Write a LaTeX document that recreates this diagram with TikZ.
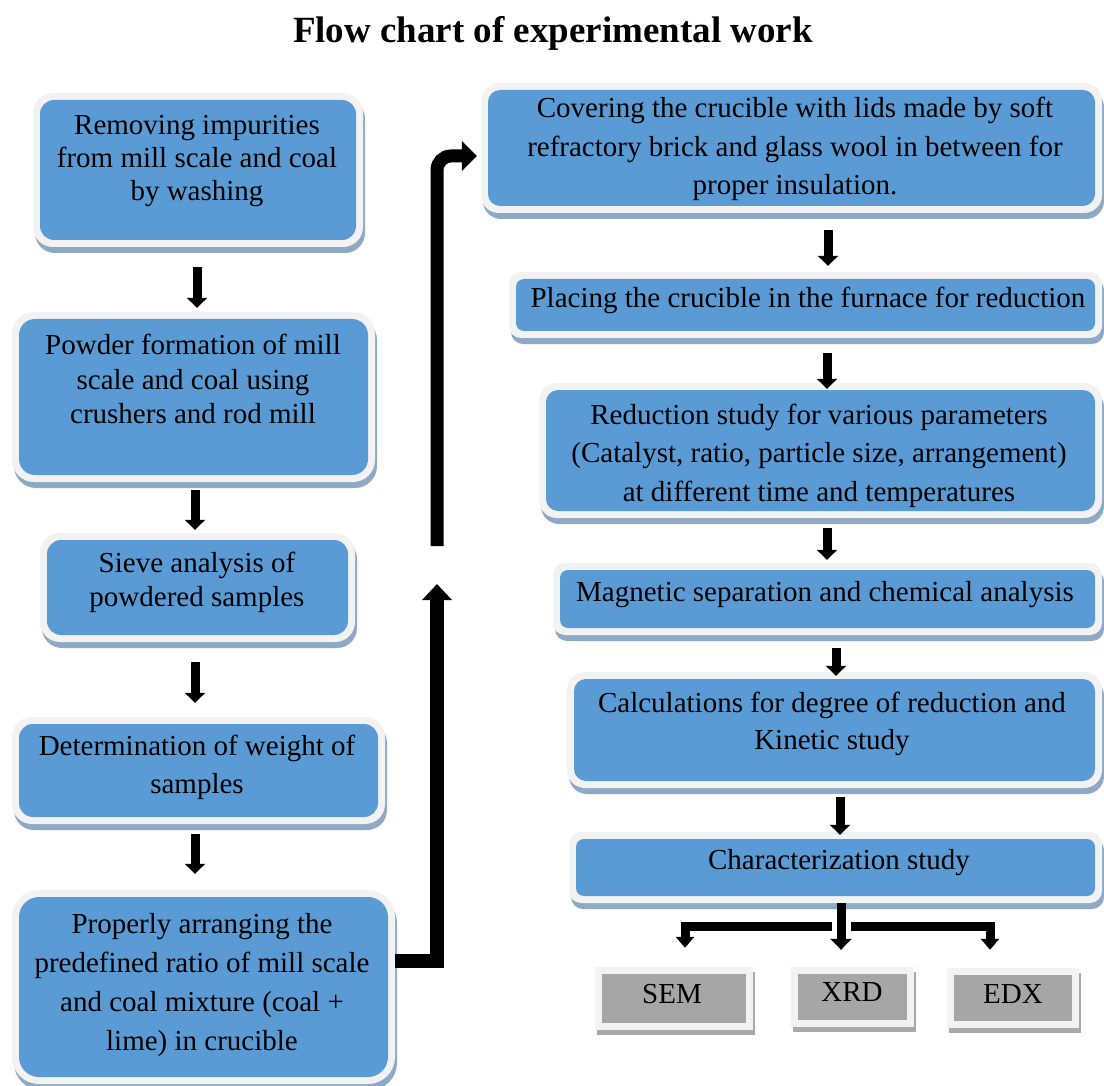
\documentclass[tikz,border=0pt]{standalone}
\usepackage{fontspec}
\setmainfont{Liberation Serif}
\usetikzlibrary{arrows.meta,shadows}
\definecolor{bluec}{HTML}{5B9BD5}
\definecolor{framec}{HTML}{F2F2F2}
\definecolor{bshadow}{HTML}{8EA9C5}
\definecolor{grayc}{HTML}{A6A6A6}
\definecolor{gshadow}{HTML}{A9A9A9}
\begin{document}
\begin{tikzpicture}[x=1pt,y=-1pt,
  bbox/.style args={#1/#2}{fill=framec, rounded corners=#1, inner sep=0pt,
    drop shadow={fill=bshadow, opacity=1, shadow xshift=2pt, shadow yshift=-6pt},
    path picture={\fill[bluec, rounded corners=#2]
      ([shift={(7pt,7pt)}]path picture bounding box.south west) rectangle
      ([shift={(-7pt,-7pt)}]path picture bounding box.north east);}},
  gbox/.style={fill=framec, inner sep=0pt,
    drop shadow={fill=gshadow, opacity=1, shadow xshift=2pt, shadow yshift=-5pt},
    path picture={\fill[grayc]
      ([shift={(7pt,7pt)}]path picture bounding box.south west) rectangle
      ([shift={(-7pt,-7pt)}]path picture bounding box.north east);}},
  txt/.style={align=center, inner sep=0pt, font=\fontsize{29pt}{#1pt}\selectfont},
  sarr/.style={draw=black, line width=9pt, -{Triangle[width=20pt,length=10pt]}},
  bigarr/.style={draw=black, line width=14pt, line join=miter, -{Triangle[width=29pt,length=16pt]}},
  bigarrb/.style={draw=black, line width=13pt, rounded corners=14pt, -{Triangle[width=29pt,length=15pt]}},
  carr/.style={draw=black, line width=9pt, line join=miter, -{Triangle[width=#1,length=11pt]}},
  carr/.default=18pt
]
\useasboundingbox (0,0) rectangle (1104,1086);
\fill[white] (0,0) rectangle (1104,1086);

% title
\node[font=\bfseries\fontsize{37pt}{44pt}\selectfont, inner sep=0pt] (title) at (553,33) {Flow chart of experimental work};

% left column boxes
\node[bbox=20pt/14pt, minimum width=330pt, minimum height=154pt] (b1) at (198,170) {};
\node[bbox=22pt/16pt, minimum width=363pt, minimum height=170pt] (b2) at (193.5,397) {};
\node[bbox=20pt/14pt, minimum width=315pt, minimum height=109pt] (b3) at (197.5,587.5) {};
\node[bbox=20pt/14pt, minimum width=373pt, minimum height=107pt] (b4) at (198.5,770.5) {};
\node[bbox=27pt/20pt, minimum width=383pt, minimum height=194pt] (b5) at (203.5,987) {};

% right column boxes
\node[bbox=18pt/12pt, minimum width=621pt, minimum height=130pt] (b6) at (791.5,148) {};
\node[bbox=12pt/8pt, minimum width=593pt, minimum height=66pt] (b7) at (805.5,305) {};
\node[bbox=18pt/12pt, minimum width=563pt, minimum height=135pt] (b8) at (820.5,450.5) {};
\node[bbox=12pt/8pt, minimum width=549pt, minimum height=72pt] (b9) at (827.5,599) {};
\node[bbox=18pt/12pt, minimum width=535pt, minimum height=116pt] (b10) at (834.5,730) {};
\node[bbox=12pt/8pt, minimum width=533pt, minimum height=71pt] (b11) at (835.5,867.5) {};

% grey boxes
\node[gbox, minimum width=158pt, minimum height=63pt] (sem) at (674,998.5) {};
\node[gbox, minimum width=123pt, minimum height=60pt] (xrd) at (852.5,997) {};
\node[gbox, minimum width=132pt, minimum height=60pt] (edx) at (1013,998) {};

% texts
\node[txt=33] (t1) at (197,161.5) {Removing impurities\\from mill scale and coal\\by washing};
\node[txt=34.5] (t2) at (193,379) {Powder formation of mill\\scale and coal using\\crushers and rod mill};
\node[txt=34] (t3) at (197,582) {Sieve analysis of\\powdered samples};
\node[txt=38] (t4) at (197,767.5) {Determination of weight of\\samples};
\node[txt=38.7] (t5) at (202,985) {Properly arranging the\\predefined ratio of mill scale\\and coal mixture (coal +\\lime) in crucible};
\node[txt=38.5] (t6) at (795,149) {Covering the crucible with lids made by soft\\refractory brick and glass wool in between for\\proper insulation.};
\node[txt=34] (t7) at (808,300.5) {Placing the crucible in the furnace for reduction};
\node[txt=38.5] (t8) at (819,455.5) {Reduction study for various parameters\\(Catalyst, ratio, particle size, arrangement)\\at different time and temperatures};
\node[txt=34] (t9) at (825,595) {Magnetic separation and chemical analysis};
\node[txt=37] (t10) at (832,723.5) {Calculations for degree of reduction and\\Kinetic study};
\node[txt=34] (t11) at (839,863) {Characterization study};
\node[txt=34] (tsem) at (672,994) {SEM};
\node[txt=34] (txrd) at (852,992) {XRD};
\node[txt=34] (tedx) at (1013,994) {EDX};

% left arrows
\draw[sarr, shorten <=20pt, shorten >=4pt] ([xshift=-1pt]b1.south) -- ([xshift=-1pt]b1.south |- b2.north);
\draw[sarr, shorten <=8pt, shorten >=3pt] ([xshift=1.5pt]b2.south) -- ([xshift=1.5pt]b2.south |- b3.north);
\draw[sarr, shorten <=20pt, shorten >=14pt] ([xshift=-2.5pt]b3.south) -- ([xshift=-2.5pt]b3.south |- b4.north);
\draw[sarr, shorten <=10pt, shorten >=16pt] ([xshift=-3.5pt]b4.south) -- ([xshift=-3.5pt]b4.south |- b5.north);

% right arrows
\draw[sarr, shorten <=17pt, shorten >=6pt] ([xshift=36.5pt]b6.south) -- ([xshift=36.5pt]b6.south |- b7.north);
\draw[sarr, shorten <=15pt, shorten >=-6pt] ([xshift=21.5pt]b7.south) -- ([xshift=21.5pt]b7.south |- b8.north);
\draw[sarr, shorten <=10pt, shorten >=3pt] ([xshift=6.5pt]b8.south) -- ([xshift=6.5pt]b8.south |- b9.north);
\draw[sarr, shorten <=13pt, shorten >=-4pt] ([xshift=8.5pt]b9.south) -- ([xshift=8.5pt]b9.south |- b10.north);
\draw[sarr, shorten <=9pt, shorten >=-3pt] ([xshift=5.5pt]b10.south) -- ([xshift=5.5pt]b10.south |- b11.north);

% big connector from b5 to b6 (interrupted)
\coordinate (up1) at (437,584);
\coordinate (g1) at (437,546);
\draw[bigarr] ([yshift=26pt]b5.east) -| (up1);
\draw[bigarrb, shorten >=4pt] (g1) |- ([yshift=-8pt]b6.west);

% branches to SEM, XRD, EDX
\coordinate (hl) at (832,926);
\coordinate (hr) at (851,926);
\draw[carr=21pt, shorten >=17pt] ([xshift=5.5pt]b11.south) -- ([xshift=5.5pt]b11.south |- xrd.north);
\draw[carr, shorten >=19pt] (hl) -| ([xshift=11pt]sem.north);
\draw[carr, shorten >=18pt] (hr) -| ([xshift=-23pt]edx.north);
\end{tikzpicture}
\end{document}
